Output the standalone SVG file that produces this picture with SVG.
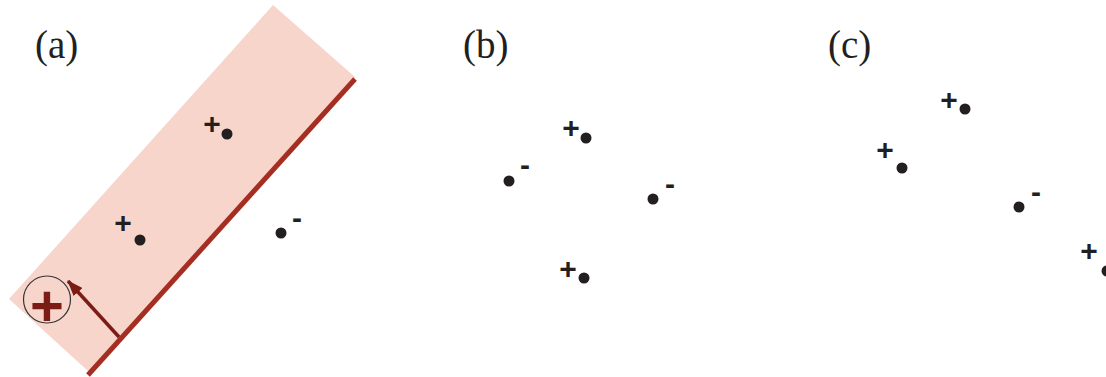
<svg xmlns="http://www.w3.org/2000/svg" width="1106" height="377" viewBox="0 0 1106 377">
<style>
.lbl{font-family:"Liberation Serif","Times New Roman",serif;font-size:39px;fill:#231f20}
.sg{font-family:"Liberation Sans",Arial,sans-serif;font-weight:bold;font-size:30px;fill:#231f20;text-anchor:middle}
.dot{fill:#231f20}
</style>
<defs>
<marker id="ah" markerWidth="16" markerHeight="12" refX="15" refY="6" orient="auto" markerUnits="userSpaceOnUse">
<polygon points="0,0 16,6 0,12" fill="#7b1c15"/>
</marker>
</defs>
<g id="panel-a">
<polygon points="273,5 355,77 89,372 9,299" fill="#f8d5cb"/>
<text class="lbl" x="35" y="58">(a)</text>
</g>
<g id="connectors">
<line x1="355" y1="79" x2="88" y2="375" stroke="#a52e22" stroke-width="5"/>
<line x1="119" y1="337" x2="68" y2="281" stroke="#7b1c15" stroke-width="3.5" marker-end="url(#ah)"/>
</g>
<g id="origin">
<circle cx="47" cy="299.5" r="23.5" fill="none" stroke="#333" stroke-width="1.2"/>
<text x="47" y="326" style="font-family:'Liberation Sans',Arial,sans-serif;font-weight:bold;font-size:58px;fill:#7b1c15;text-anchor:middle">+</text>
</g>
<g id="a-p1"><text class="sg" x="212" y="133.5">+</text><circle class="dot" cx="227" cy="134" r="5.5"/></g>
<g id="a-p2"><text class="sg" x="123" y="232.5">+</text><circle class="dot" cx="140" cy="240" r="5.5"/></g>
<g id="a-n1"><text class="sg" x="297" y="228">-</text><circle class="dot" cx="281" cy="233" r="5.5"/></g>
<g id="panel-b"><text class="lbl" x="463" y="58">(b)</text></g>
<g id="b-p1"><text class="sg" x="571" y="137.5">+</text><circle class="dot" cx="586" cy="138" r="5.5"/></g>
<g id="b-n1"><text class="sg" x="525" y="175">-</text><circle class="dot" cx="509" cy="181" r="5.5"/></g>
<g id="b-n2"><text class="sg" x="670" y="194">-</text><circle class="dot" cx="653" cy="199" r="5.5"/></g>
<g id="b-p2"><text class="sg" x="568" y="278.5">+</text><circle class="dot" cx="584" cy="278" r="5.5"/></g>
<g id="panel-c"><text class="lbl" x="828" y="58">(c)</text></g>
<g id="c-p1"><text class="sg" x="949" y="109.5">+</text><circle class="dot" cx="965" cy="109" r="5.5"/></g>
<g id="c-p2"><text class="sg" x="885" y="159.5">+</text><circle class="dot" cx="902" cy="168" r="5.5"/></g>
<g id="c-n1"><text class="sg" x="1036" y="202">-</text><circle class="dot" cx="1019" cy="207" r="5.5"/></g>
<g id="c-p3"><text class="sg" x="1089" y="261">+</text><circle class="dot" cx="1107" cy="271" r="5.5"/></g>
</svg>
